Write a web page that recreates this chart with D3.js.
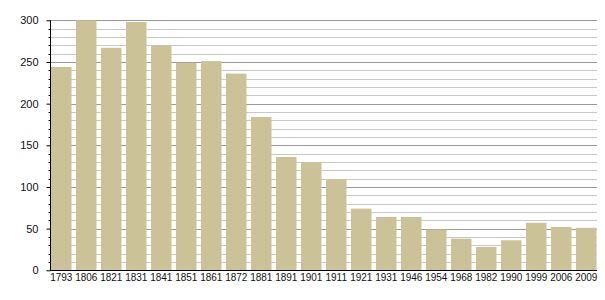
<!DOCTYPE html>
<html><head><meta charset="utf-8">
<script src="https://cdn.jsdelivr.net/npm/d3@7"></script>
<style>body{margin:0;background:#fff}svg{display:block}</style>
</head><body>
<script>
const years = ["1793","1806","1821","1831","1841","1851","1861","1872","1881","1891","1901","1911","1921","1931","1946","1954","1968","1982","1990","1999","2006","2009"];
const population = [244,300,267,298,270,249,251,236,184,136,130,109,74,64,64,49,38,28,36,57,52,51];
const majorTicks = [0,50,100,150,200,250,300];

const W=605,H=300;
const svg=d3.select("body").append("svg").attr("width",W).attr("height",H);
const pLeft=50,pRight=597,pTop=20.3,pBottom=270.3;
const x=d3.scaleBand().domain(years).range([51,601]).paddingInner(0.18).paddingOuter(0.09).align(0);
const y=d3.scaleLinear().domain([0,300]).range([pBottom,pTop]);

const minor=d3.range(0,301,10).filter(v=>v%50!==0);
svg.append("g").selectAll("line").data(minor).join("line")
  .attr("x1",pLeft).attr("x2",pRight).attr("y1",d=>Math.round(y(d))+0.5).attr("y2",d=>Math.round(y(d))+0.5)
  .attr("stroke","#c8c8c8").attr("stroke-width",1);
svg.append("g").selectAll("line").data(majorTicks.filter(v=>v>0)).join("line")
  .attr("x1",pLeft).attr("x2",pRight).attr("y1",d=>Math.round(y(d))+0.5).attr("y2",d=>Math.round(y(d))+0.5)
  .attr("stroke","#9a9a9a").attr("stroke-width",1);

svg.append("g").selectAll("rect").data(population).join("rect")
  .attr("x",(d,i)=>x(years[i])).attr("width",x.bandwidth())
  .attr("y",d=>y(d)).attr("height",d=>y(0)-y(d))
  .attr("fill","#cbc297");

// y axis
const ya=svg.append("g").attr("transform",`translate(${pLeft+0.5},0)`)
  .call(d3.axisLeft(y).tickValues(majorTicks).tickSize(4).tickPadding(8).tickFormat(d3.format("d")));
ya.select(".domain").attr("stroke","#000").attr("d",`M0,${pTop}V${pBottom}`);
ya.selectAll("text").attr("font-family","Liberation Sans, Arial, sans-serif").attr("font-size",11).attr("fill","#111");
ya.selectAll(".tick line").attr("stroke","#000");
ya.append("g").selectAll("line").data(minor).join("line")
  .attr("x1",-2).attr("x2",0).attr("y1",d=>Math.round(y(d))+0.5).attr("y2",d=>Math.round(y(d))+0.5).attr("stroke","#000");

// x axis
const xa=svg.append("g").attr("transform",`translate(0,${Math.round(pBottom)+0.5})`)
  .call(d3.axisBottom(x).tickSize(0).tickPadding(3));
xa.select(".domain").attr("stroke","#000").attr("d",`M${pLeft},0H${pRight}`);
xa.selectAll("text").attr("font-family","Liberation Sans, Arial, sans-serif").attr("font-size",10).attr("fill","#111");
</script>
</body></html>
